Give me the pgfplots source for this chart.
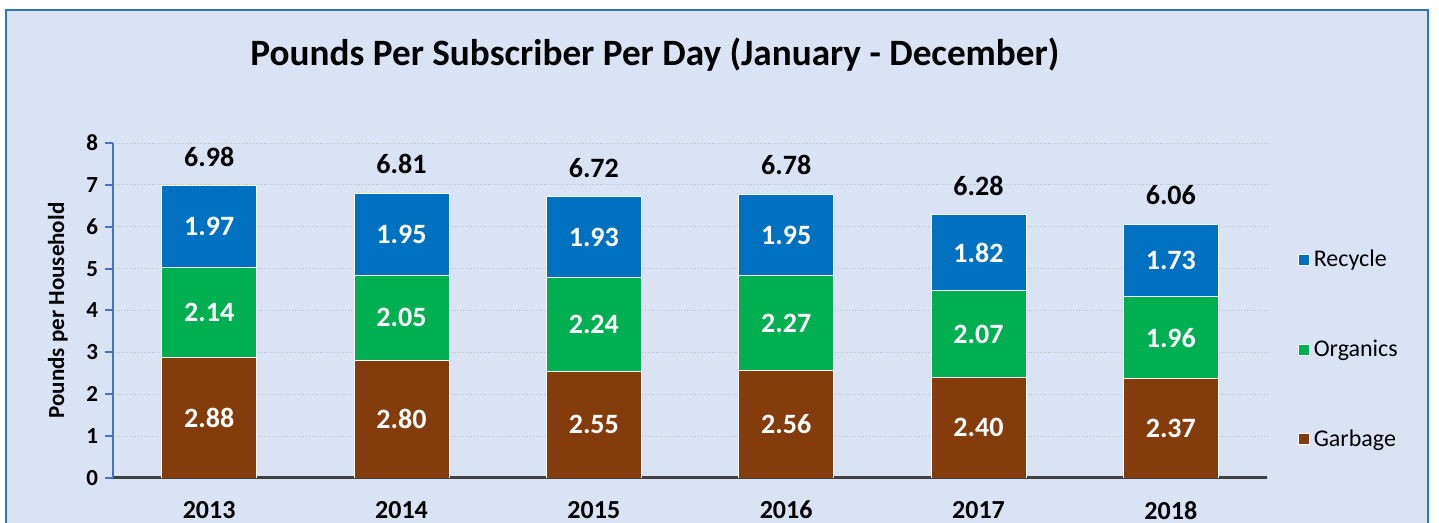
\documentclass[border=0pt]{standalone}
\usepackage{pgfplots}
\pgfplotsset{compat=1.18}
\usepackage{fontspec}
\setmainfont{Carlito}
\definecolor{bgblue}{RGB}{218,227,243}
\definecolor{frameblue}{RGB}{46,117,182}
\definecolor{recycle}{RGB}{0,112,192}
\definecolor{organics}{RGB}{0,176,80}
\definecolor{garbage}{RGB}{132,60,12}
\definecolor{yaxisblue}{RGB}{68,114,196}
\pgfplotsset{chartgeom/.style={
  at={(56.5pt,22.5pt)}, anchor=south west,
  scale only axis, width=577pt, height=167.5pt,
  xmin=-0.5, xmax=5.5, ymin=0, ymax=8,
  /pgf/number format/assume math mode=true}}
\begin{document}
\begin{tikzpicture}
\path[use as bounding box] (0,0) rectangle (719.5pt,261.5pt);
\clip (0,0) rectangle (719.5pt,261.5pt);
\fill[white] (0,0) rectangle (719.5pt,261.5pt);
\filldraw[fill=bgblue, draw=frameblue, line width=1pt] (3pt,-10pt) rectangle (714pt,256.5pt);
\node[font=\fontsize{18.6}{21}\selectfont\bfseries] at (327.5pt,234pt) {Pounds Per Subscriber Per Day (January - December)};
\begin{axis}[
  chartgeom,
  ybar stacked, bar width=47.5pt,
  xtick={0,...,5}, xticklabels={2013,2014,2015,2016,2017,2018},
  ytick={0,...,8},
  axis x line*=bottom, axis y line*=left,
  x axis line style={draw=black!75, line width=1.5pt},
  y axis line style={draw=yaxisblue, line width=1pt},
  xtick style={draw=none},
  ytick style={draw=yaxisblue, line width=1pt},
  tick align=outside, major tick length=4pt,
  ymajorgrids, grid style={densely dotted, black!25, line width=0.5pt},
  yticklabel style={font=\fontsize{11.5}{13}\selectfont\bfseries},
  xticklabel style={font=\fontsize{13}{15}\selectfont\bfseries, yshift=-4pt},
  ylabel={Pounds per Household},
  ylabel style={at={(axis description cs:-0.0477,0.5)}, anchor=center, font=\fontsize{11.5}{13}\selectfont\bfseries},
  legend style={at={(1.0215,0.383)}, anchor=west, draw=none, fill=none,
    font=\fontsize{12}{14}\selectfont, row sep=31pt, legend cell align=left},
  reverse legend,
  legend image code/.code={\draw[#1, line width=0.3pt, solid] (0pt,-2.75pt) rectangle (5.5pt,2.75pt);},
  every axis plot/.append style={draw=white, line width=0.4pt},
  nodes near coords,
  nodes near coords style={font=\fontsize{14}{16}\selectfont\bfseries, text=white, anchor=center,
    /pgf/number format/.cd, fixed, precision=2, zerofill},
]
\addplot[fill=garbage] coordinates {(0,2.88) (1,2.80) (2,2.55) (3,2.56) (4,2.40) (5,2.37)};
\addlegendentry{Garbage}
\addplot[fill=organics] coordinates {(0,2.14) (1,2.05) (2,2.24) (3,2.27) (4,2.07) (5,1.96)};
\addlegendentry{Organics}
\addplot[fill=recycle] coordinates {(0,1.97) (1,1.95) (2,1.93) (3,1.95) (4,1.82) (5,1.73)};
\addlegendentry{Recycle}
\end{axis}
\begin{axis}[chartgeom, hide axis]
\addplot[draw=none, mark=none, nodes near coords, point meta=y,
  nodes near coords style={text=black, font=\fontsize{14}{16}\selectfont\bfseries, anchor=center, yshift=14.5pt,
    /pgf/number format/.cd, fixed, precision=2, zerofill}]
  coordinates {(0,6.98) (1,6.81) (2,6.72) (3,6.78) (4,6.28) (5,6.06)};
\end{axis}
\end{tikzpicture}
\end{document}
